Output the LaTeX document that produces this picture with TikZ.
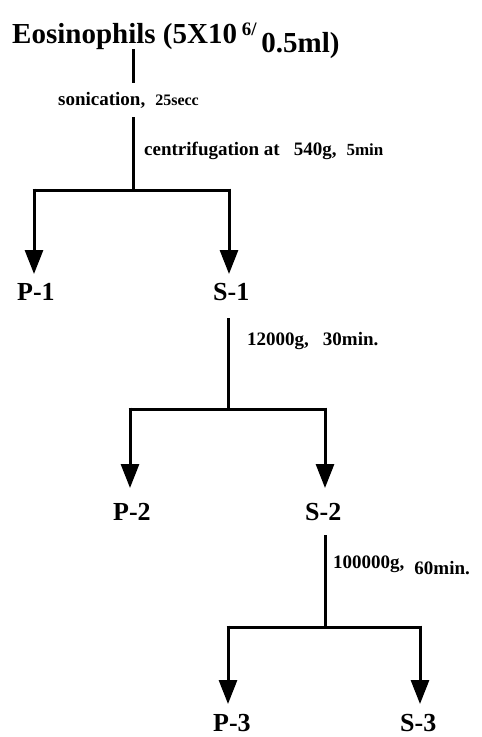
\documentclass[tikz,border=0pt]{standalone}
\usepackage{fontspec}
\setmainfont{Liberation Serif}
\usetikzlibrary{arrows.meta}
\tikzset{
  flow/.style={line width=3pt},
  flowarrow/.style={line width=3pt,-{Triangle[width=18pt,length=24pt]}},
  steplabel/.style={anchor=base west,inner sep=0pt,font=\bfseries\fontsize{19}{19}\selectfont},
  fraction/.style={anchor=base west,inner sep=0pt,font=\bfseries\fontsize{26}{26}\selectfont},
}
\begin{document}
\begin{tikzpicture}[x=1pt,y=-1pt]
\useasboundingbox[fill=white] (0,0) rectangle (482,737);
% title
\node[anchor=base west,inner sep=0pt,font=\bfseries\fontsize{29}{29}\selectfont] (title) at (12,43)
  {Eosinophils (5X10\,\raisebox{8pt}{\fontsize{19}{19}\selectfont 6/}\,\raisebox{-9pt}{0.5ml)}};
% step labels
\node[steplabel] (son) at (58,105) {sonication,\hspace{10pt}{\fontsize{16}{16}\selectfont 25secc}};
\node[steplabel] (cen) at (144,155) {centrifugation at\hspace{14pt}540g,\hspace{10pt}{\fontsize{17}{17}\selectfont 5min}};
\node[steplabel] (g12) at (247,345) {12000g,\hspace{14pt}30min.};
\node[steplabel] (g100) at (333,568) {100000g,\hspace{10pt}\raisebox{-6pt}{60min.}};
% fractions
\node[fraction] (p1) at (17,300) {P-1};
\node[fraction] (s1) at (213,300) {S-1};
\node[fraction] (p2) at (113,520) {P-2};
\node[fraction] (s2) at (305,520) {S-2};
\node[fraction] (p3) at (213,731) {P-3};
\node[fraction] (s3) at (400,731) {S-3};
% coordinates
\coordinate (a0) at (133,49);
\coordinate (a1) at (133,83);
\coordinate (a2) at (133,117);
\coordinate (b0) at (133,190);
\coordinate (bl) at (32.5,190);
\coordinate (br) at (230.5,190);
\coordinate (t1l) at (34,274);
\coordinate (t1r) at (229,274);
\coordinate (c0) at (228,318);
\coordinate (d0) at (228,409);
\coordinate (dl) at (128.5,409);
\coordinate (dr) at (326.5,409);
\coordinate (t2l) at (130,488);
\coordinate (t2r) at (325,488);
\coordinate (e0) at (325,535);
\coordinate (f0) at (325,627);
\coordinate (fl) at (226.5,627);
\coordinate (fr) at (421.5,627);
\coordinate (t3l) at (228,704);
\coordinate (t3r) at (420,704);
% level 1
\draw[flow] (a0) -- (a1);
\draw[flow] (a2) -- (b0);
\draw[flow] (bl) -- (br);
\draw[flowarrow] (34,188.5) -- (t1l);
\draw[flowarrow] (229,188.5) -- (t1r);
% level 2
\draw[flow] (c0) -- (d0);
\draw[flow] (dl) -- (dr);
\draw[flowarrow] (130,407.5) -- (t2l);
\draw[flowarrow] (325,407.5) -- (t2r);
% level 3
\draw[flow] (e0) -- (f0);
\draw[flow] (fl) -- (fr);
\draw[flowarrow] (228,625.5) -- (t3l);
\draw[flowarrow] (420,625.5) -- (t3r);
\end{tikzpicture}
\end{document}
